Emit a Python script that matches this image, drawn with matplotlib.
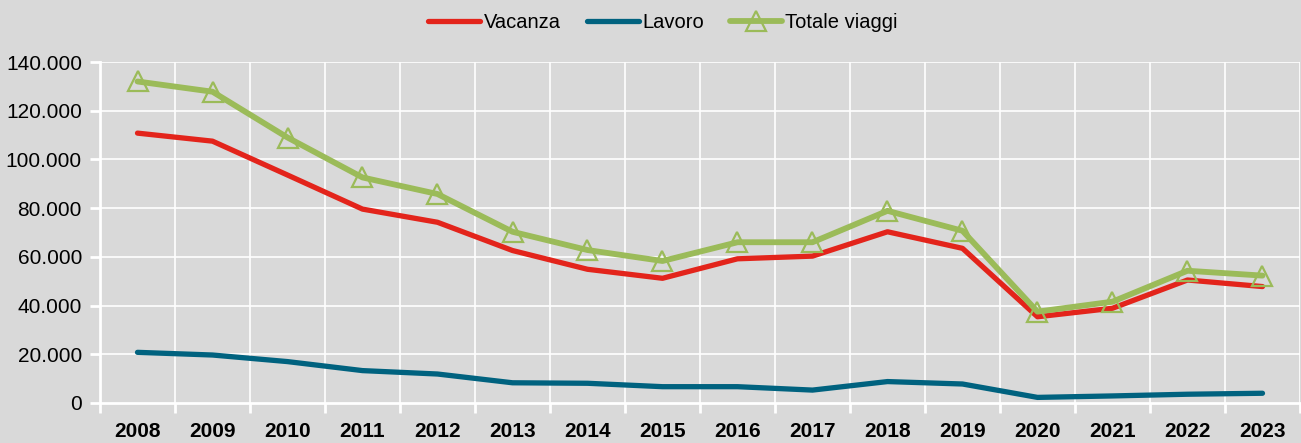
import matplotlib
matplotlib.use("Agg")
import matplotlib.pyplot as plt
from matplotlib.ticker import FuncFormatter, FixedLocator
import numpy as np

years = ["2008", "2009", "2010", "2011", "2012", "2013", "2014", "2015",
         "2016", "2017", "2018", "2019", "2020", "2021", "2022", "2023"]
vacanza = [110800, 107500, 93600, 79600, 74200, 62600, 54900, 51200,
           59200, 60300, 70300, 63500, 35400, 38900, 50500, 47800]
lavoro = [20800, 19700, 17000, 13300, 11900, 8300, 8100, 6700,
          6700, 5300, 8800, 7800, 2300, 2900, 3600, 4000]
totale = [132000, 127800, 109000, 92600, 85800, 70300, 62800, 58300,
          66000, 66000, 78900, 70700, 37500, 41600, 54300, 52300]

plt.rcParams['font.family'] = ['Liberation Sans', 'DejaVu Sans']

bg = '#D9D9D9'
fig = plt.figure(figsize=(13.01, 4.43), dpi=100, facecolor=bg)
ax = fig.add_axes([100/1301, 1 - 403/443, 1200/1301, (403 - 62)/443])
ax.set_facecolor(bg)

x = np.arange(len(years))
ax.plot(x, lavoro, color='#00627F', lw=3.8, solid_capstyle='round', label='Lavoro', zorder=3)
ax.plot(x, vacanza, color='#E3241B', lw=3.8, solid_capstyle='round', label='Vacanza', zorder=4)
ax.plot(x, totale, color='#9BBB59', lw=4.2, solid_capstyle='round', marker='^', ms=15,
        mfc='none', mec='#9BBB59', mew=1.6, label='Totale viaggi', zorder=5)

ax.set_xlim(-0.5, len(years) - 0.5)
ax.set_ylim(0, 140000)
ax.set_yticks(np.arange(0, 140001, 20000))
ax.yaxis.set_major_formatter(FuncFormatter(lambda v, p: f"{int(v):,}".replace(',', '.')))
ax.set_xticks(x)
ax.set_xticklabels(years, fontweight='bold')
ax.xaxis.set_minor_locator(FixedLocator(np.arange(-0.5, len(years), 1.0)))

ax.grid(False)
for v in np.arange(20000, 140001, 20000):
    ax.axhline(v, color='white', lw=1.2, zorder=1)
for b in np.arange(0.5, len(years), 1.0):
    ax.axvline(b, color='white', lw=1.2, zorder=1)

for s in ['top', 'right']:
    ax.spines[s].set_visible(False)
for s in ['left', 'bottom']:
    ax.spines[s].set_color('white')
    ax.spines[s].set_linewidth(2)

ax.tick_params(axis='y', colors='white', length=7, width=2, labelcolor='black', labelsize=15, pad=6)
ax.tick_params(axis='x', which='major', length=0, labelcolor='black', labelsize=15, pad=14)
ax.tick_params(axis='x', which='minor', colors='white', length=7, width=2)

handles, labels = ax.get_legend_handles_labels()
order = [1, 0, 2]
leg = fig.legend([handles[i] for i in order], [labels[i] for i in order],
                 loc='center', bbox_to_anchor=(663/1301, 1 - 23/443), ncol=3,
                 frameon=False, fontsize=14.5, handlelength=2.6, handletextpad=0.15,
                 columnspacing=1.3)

fig.savefig('out.png', dpi=100, facecolor=bg)
